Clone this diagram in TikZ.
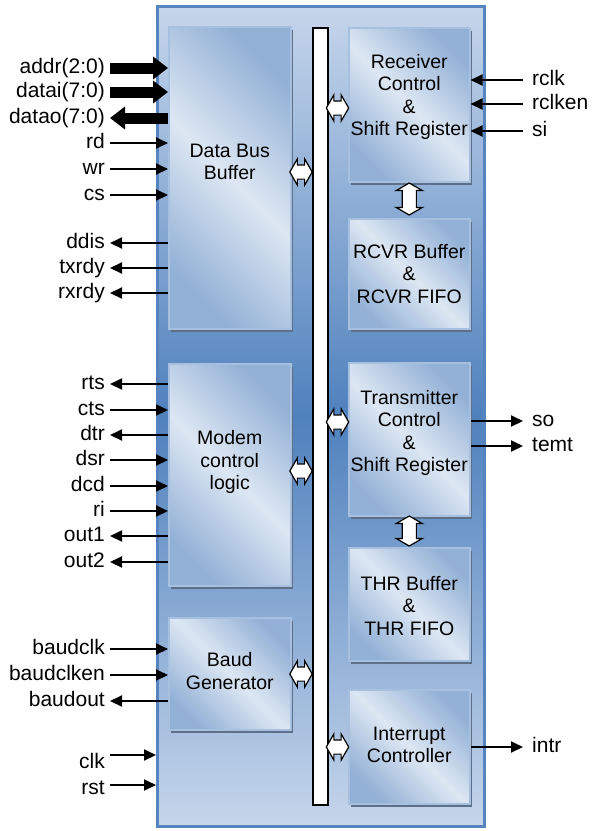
\documentclass[tikz,border=0pt]{standalone}
\usepackage{fontspec}
\setmainfont{Liberation Sans}
\usetikzlibrary{arrows.meta,shapes.arrows,shadows}
\definecolor{chipTop}{HTML}{C6D6EB}
\definecolor{chipMid}{HTML}{4F81BD}
\definecolor{chipEdge}{HTML}{5584C0}
\definecolor{blkLight}{HTML}{DDE7F3}
\definecolor{blkDark}{HTML}{93B1D6}
\definecolor{blkEdge}{HTML}{A8C0E0}
\definecolor{shadowCol}{HTML}{5E6F8A}
\tikzset{
  chipbox/.style={draw=chipEdge, line width=3pt, top color=chipTop, bottom color=chipTop,
                  middle color=chipMid, inner sep=0pt, anchor=north west},
  block/.style={draw=blkEdge, line width=1.5pt, top color=blkDark, bottom color=blkDark,
                middle color=blkLight, shading angle=-45, inner sep=0pt, anchor=north west,
                drop shadow={shadow xshift=2.5pt, shadow yshift=-3.5pt, fill=shadowCol, opacity=1}},
  blocktext/.style={font=\fontsize{19.5}{22.5}\selectfont, align=center, inner sep=0pt},
  siglbl/.style={font=\fontsize{21}{24}\selectfont, text height=15pt, text depth=4.5pt,
                 inner ysep=0pt, inner xsep=5pt},
  sigin/.style={-{Triangle[length=12pt, width=11pt]}, line width=2pt},   % single input
  sigout/.style={{Triangle[length=12pt, width=11pt]}-, line width=2pt},  % single output
  busin/.style={-{Triangle[length=15pt, width=22pt]}, line width=11pt},  % bus input
  busout/.style={{Triangle[length=15pt, width=22pt]}-, line width=11pt}, % bus output
  busbar/.style={draw=black, fill=white, line width=2pt, inner sep=0pt, anchor=north west},
  link/.style={double arrow, draw=black, fill=white, line width=1.2pt, inner sep=6.5pt,
               minimum height=22pt, double arrow head extend=6pt,
               double arrow tip angle=120},
}
\newcommand{\pinL}[5]{%
  \node[siglbl, anchor=east] (#1) at (\xLbl,#2) {#3};
  \draw[#4] (#1.east) -- (#1.east -| #5.west);}
\newcommand{\pinR}[5]{%
  \node[siglbl, anchor=west, inner xsep=9pt] (#1) at (\xRlbl,#2) {#3};
  \draw[#4] (#1.west) -- (#1.west -| #5.east);}

\begin{document}
\begin{tikzpicture}[x=1pt, y=-1pt]
  \def\xLa{168}\def\xLb{290}\def\xRa{348}\def\xRb{469}
  \def\xBa{312}\def\xBb{327}
  \def\xLbl{110}\def\xRlbl{523}
  \useasboundingbox (0,0) rectangle (596,831);

  \node[chipbox, minimum width=327pt, minimum height=820pt] (chip) at (156,5) {};
  \node[busbar, minimum width=15pt, minimum height=777pt] (bus) at (\xBa,27) {};

  % left column
  \node[block, minimum width=122pt, minimum height=302pt] (dbb)  at (\xLa,26)  {};
  \node[block, minimum width=122pt, minimum height=222pt] (mcl)  at (\xLa,363) {};
  \node[block, minimum width=122pt, minimum height=112pt] (baud) at (\xLa,617) {};
  % right column
  \node[block, minimum width=121pt, minimum height=154pt] (rcv)  at (\xRa,27)  {};
  \node[block, minimum width=121pt, minimum height=110pt] (rbuf) at (\xRa,218) {};
  \node[block, minimum width=121pt, minimum height=153pt] (xmt)  at (\xRa,362) {};
  \node[block, minimum width=121pt, minimum height=113pt] (tbuf) at (\xRa,547) {};
  \node[block, minimum width=121pt, minimum height=114pt] (irq)  at (\xRa,689) {};

  \node[blocktext] (dbbtxt)  at (dbb.center |- 0,162)  {Data Bus\\Buffer};
  \node[blocktext] (mcltxt)  at (mcl.center |- 0,462)  {Modem\\control\\logic};
  \node[blocktext] (baudtxt) at (baud.center |- 0,671) {Baud\\Generator};
  \node[blocktext] (rcvtxt)  at (rcv.center |- 0,97)   {Receiver\\Control\\\&\\Shift Register};
  \node[blocktext] (rbuftxt) at (rbuf.center |- 0,274) {RCVR Buffer\\\&\\RCVR FIFO};
  \node[blocktext] (xmttxt)  at (xmt.center |- 0,433)  {Transmitter\\Control\\\&\\Shift Register};
  \node[blocktext] (tbuftxt) at (tbuf.center |- 0,606) {THR Buffer\\\&\\THR FIFO};
  \node[blocktext] (irqtxt)  at (irq.center |- 0,745)  {Interrupt\\Controller};

  % links to the internal bus
  \node[link] (lk1) at ({(\xLb+\xBa)/2},172) {};
  \node[link] (lk2) at ({(\xLb+\xBa)/2},471) {};
  \node[link] (lk3) at ({(\xLb+\xBa)/2},674) {};
  \node[link] (lk4) at ({(\xBb+\xRa)/2},108) {};
  \node[link] (lk5) at ({(\xBb+\xRa)/2},422) {};
  \node[link] (lk6) at ({(\xBb+\xRa)/2},747) {};
  \node[link, shape border rotate=90, minimum height=32pt] (lk7) at (rcv.south |- 0,199) {};
  \node[link, shape border rotate=90, minimum height=30pt] (lk8) at (xmt.south |- 0,531) {};

  % pins
  \pinL{addr}{68}{addr(2:0)}{busin}{dbb}
  \pinL{datai}{92}{datai(7:0)}{busin}{dbb}
  \pinL{datao}{118}{datao(7:0)}{busout}{dbb}
  \pinL{rd}{143}{rd}{sigin}{dbb}
  \pinL{wr}{169}{wr}{sigin}{dbb}
  \pinL{cs}{195}{cs}{sigin}{dbb}
  \pinL{ddis}{243}{ddis}{sigout}{dbb}
  \pinL{txrdy}{268}{txrdy}{sigout}{dbb}
  \pinL{rxrdy}{293}{rxrdy}{sigout}{dbb}
  \pinL{rts}{384}{rts}{sigout}{mcl}
  \pinL{cts}{410}{cts}{sigin}{mcl}
  \pinL{dtr}{435}{dtr}{sigout}{mcl}
  \pinL{dsr}{460}{dsr}{sigin}{mcl}
  \pinL{dcd}{486}{dcd}{sigin}{mcl}
  \pinL{ri}{511}{ri}{sigin}{mcl}
  \pinL{out1}{536}{out1}{sigout}{mcl}
  \pinL{out2}{562}{out2}{sigout}{mcl}
  \pinL{baudclk}{649}{baudclk}{sigin}{baud}
  \pinL{baudclken}{675}{baudclken}{sigin}{baud}
  \pinL{baudout}{701}{baudout}{sigout}{baud}
  \node[siglbl, anchor=east] (clk) at (\xLbl,763) {clk};
  \draw[sigin] ([yshift=8pt]clk.east) -- ([yshift=8pt]clk.east -| chip.west);
  \node[siglbl, anchor=east] (rst) at (\xLbl,789) {rst};
  \draw[sigin] ([yshift=4pt]rst.east) -- ([yshift=4pt]rst.east -| chip.west);

  \pinR{rclk}{80}{rclk}{sigin}{rcv}
  \pinR{rclken}{104}{rclken}{sigin}{rcv}
  \pinR{si}{131}{si}{sigin}{rcv}
  \pinR{so}{421}{so}{sigout}{xmt}
  \pinR{temt}{446}{temt}{sigout}{xmt}
  \pinR{intr}{747}{intr}{sigout}{irq}
\end{tikzpicture}
\end{document}
